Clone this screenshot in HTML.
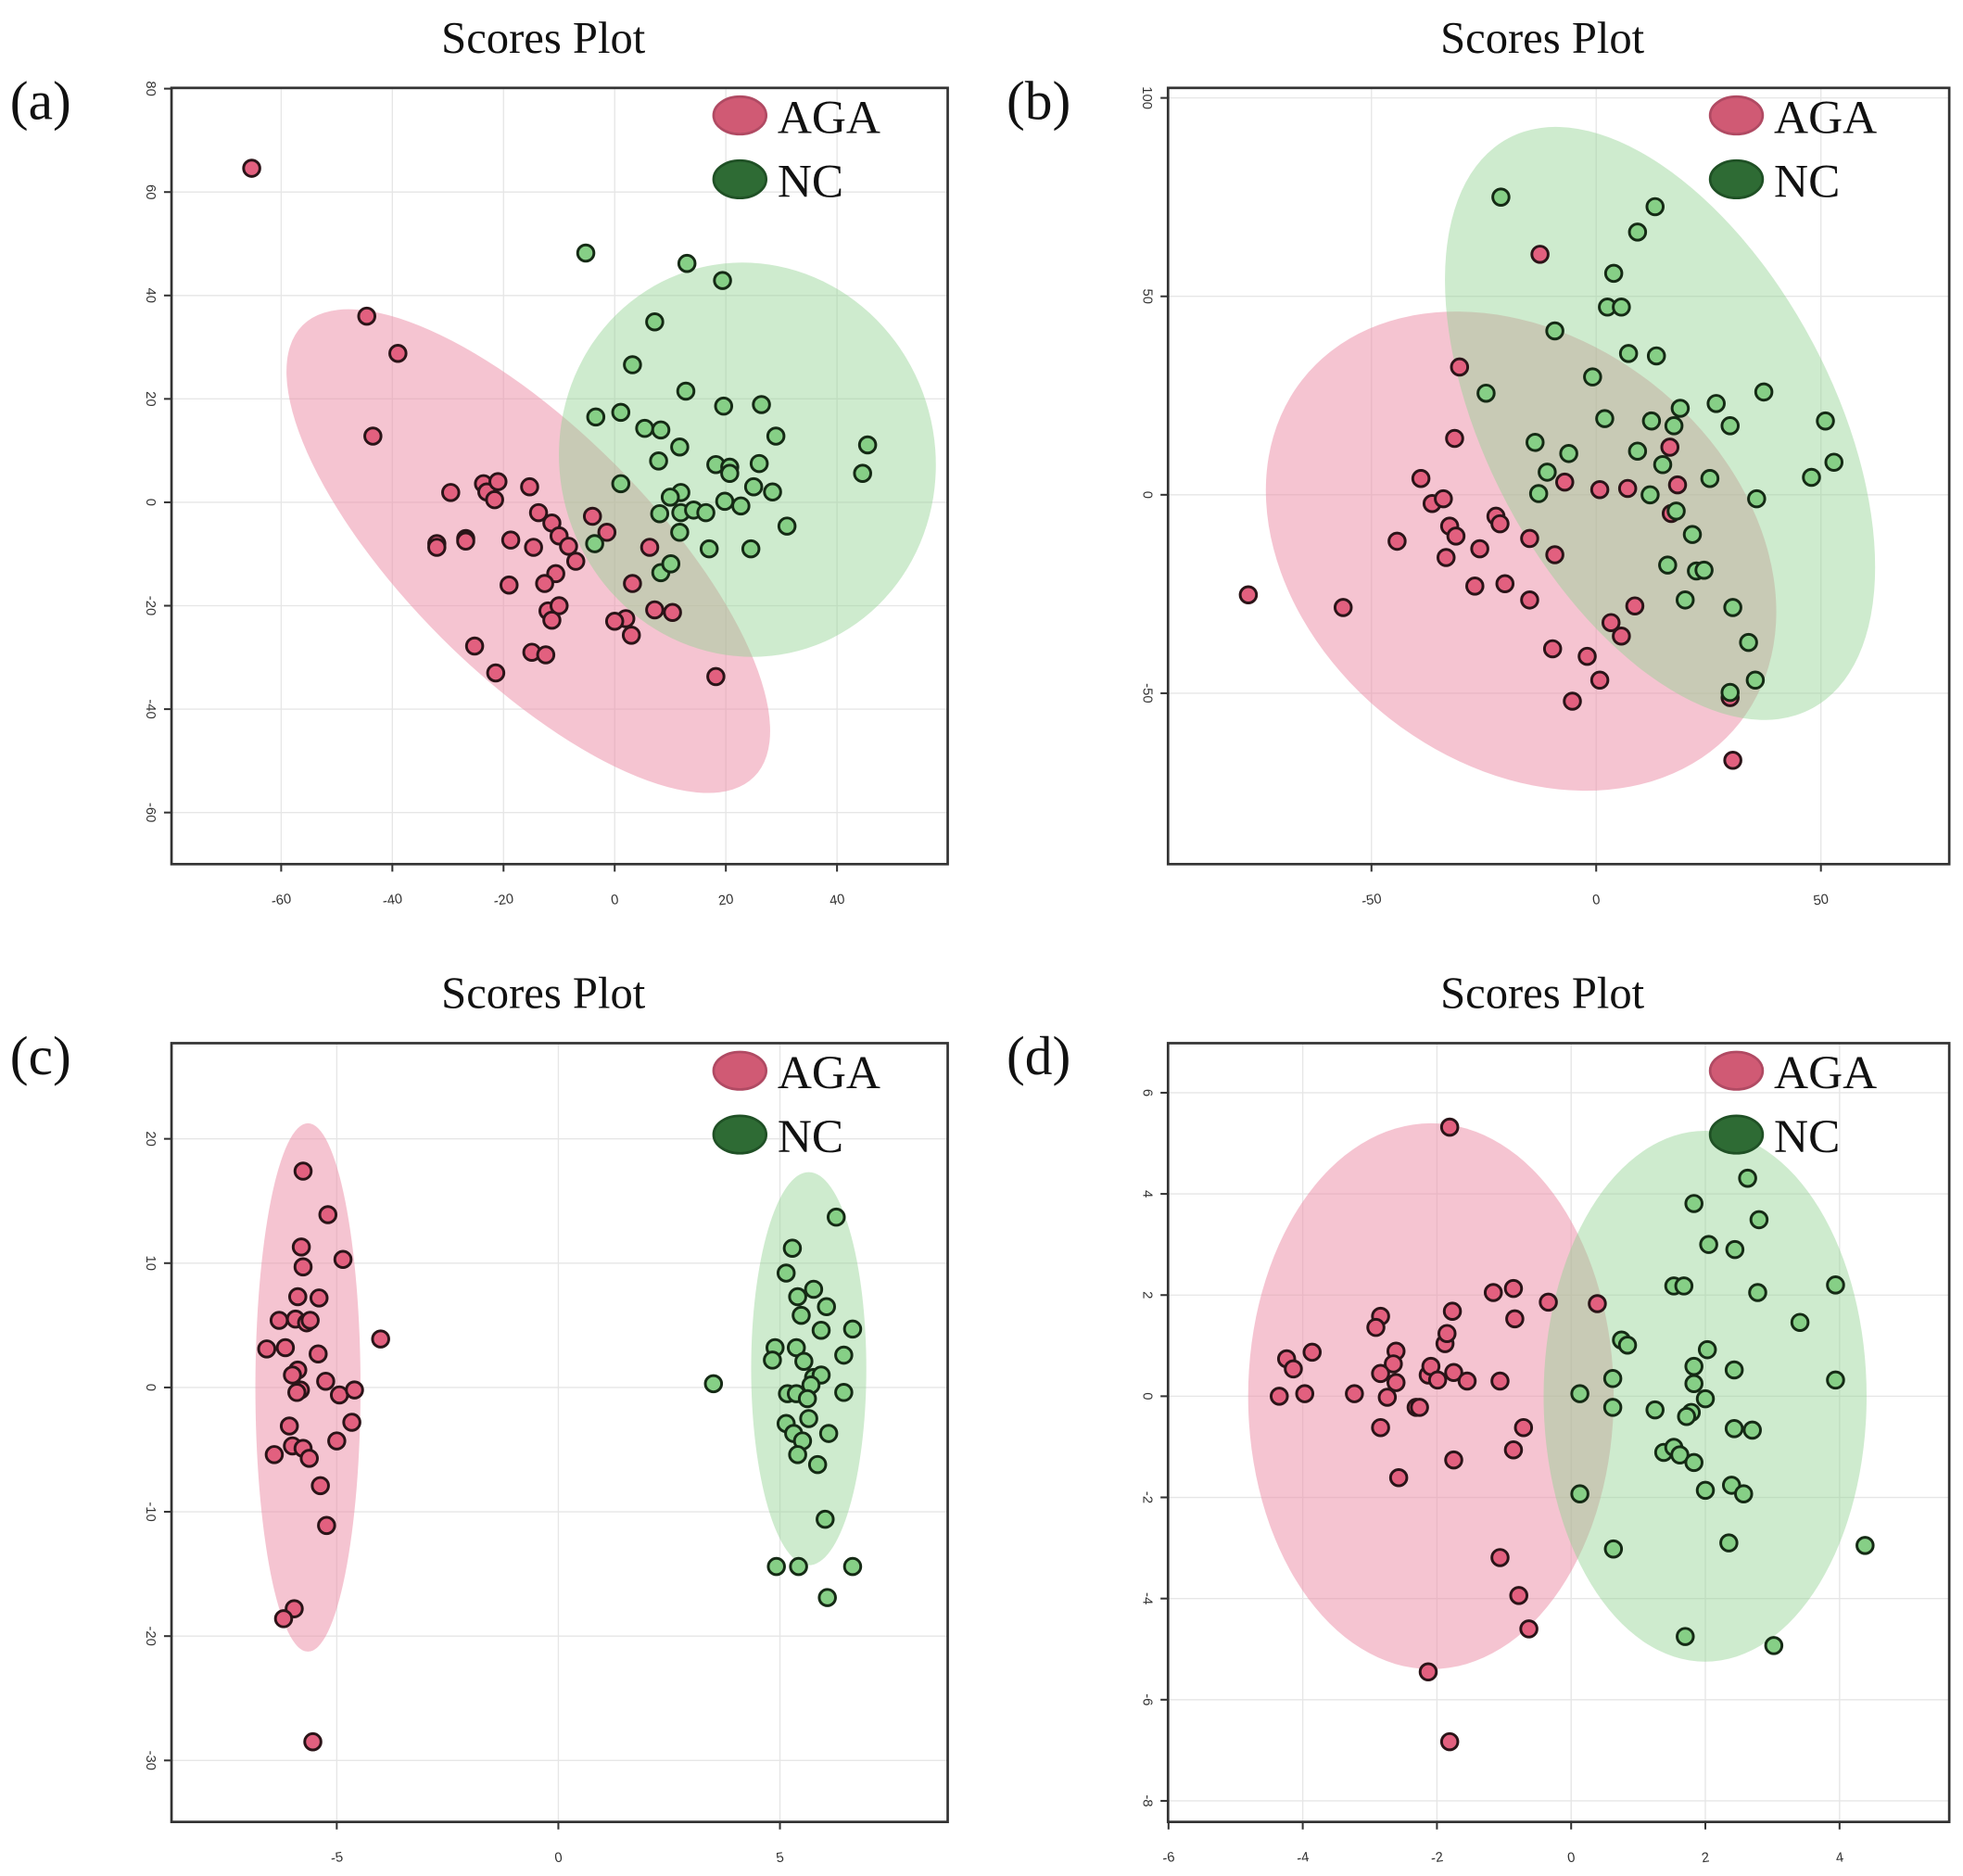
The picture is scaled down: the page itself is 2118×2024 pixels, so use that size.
<!DOCTYPE html>
<html><head><meta charset="utf-8"><style>
html,body{margin:0;padding:0;background:#fff;}
svg{display:block;}
</style></head><body>
<svg id="fig" width="2118" height="2024" viewBox="0 0 1568 1498" xmlns="http://www.w3.org/2000/svg"></svg>
<script>
// Panel (a)
const aPinkX=[-65.3,-44.6,-39,-43.5,-29.5,-23.6,-23,-21,-21.6,-15.3,-32,-32,-26.8,-26.8,-18.7,-13.7,-11.3,-10,-8.3,-14.6,-7,-10.6,-12.6,-19,-12,-10,-11.3,-4,-1.4,3.2,2,0,3,6.3,7.2,10.4,-25.2,-14.9,-12.4,-21.4,18.2];
const aPinkY=[64.6,36,28.8,12.8,1.9,3.6,2,4,0.5,3,-8,-8.7,-7,-7.5,-7.3,-2,-4,-6.5,-8.5,-8.7,-11.4,-13.8,-15.7,-16,-21,-20,-22.8,-2.7,-5.8,-15.7,-22.5,-23,-25.7,-8.7,-20.8,-21.3,-27.8,-29,-29.5,-33,-33.7];
const aGreenX=[-5.2,13,19.4,7.2,3.2,12.8,19.6,26.4,-3.4,1.1,5.4,8.3,11.7,29,45.5,44.6,7.9,18.2,20.7,20.7,26,1.1,25,28.4,11.9,10,8.1,11.9,14.2,16.4,19.8,22.7,31,11.7,-3.6,17,24.5,8.3,10.1];
const aGreenY=[48.2,46.2,42.9,34.9,26.6,21.5,18.6,18.9,16.5,17.4,14.3,14,10.7,12.8,11.1,5.6,8,7.3,6.8,5.6,7.5,3.6,3,2,1.9,1,-2.2,-2,-1.5,-2,0.2,-0.7,-4.6,-5.8,-8,-9,-9,-13.6,-11.9];
const aXTicks=[-60,-40,-20,0,20,40];
const aYTicks=[-60,-40,-20,0,20,40,60,80];
// Panel (b)
const bPinkX=[-77.4,-56.3,-12.5,-30.4,-31.5,-39,-36.5,-34,-44.3,-32.6,-31.2,-33.4,-25.9,-22.3,-21.4,-27,-20.3,-14.8,-9.7,-2,0.8,-5.3,-14.8,-9.2,-7,0.8,7,16.4,16.7,18.1,3.3,5.6,8.6,29.8,30.4];
const bPinkY=[-25.2,-28.4,60.6,32.2,14.2,4.1,-2.2,-1,-11.7,-7.9,-10.4,-15.8,-13.6,-5.4,-7.3,-23,-22.4,-26.5,-38.8,-40.7,-46.7,-52,-11,-15.1,3.2,1.3,1.6,12,-4.7,2.5,-32.2,-35.6,-28,-51.1,-66.9];
const bGreenX=[-21.2,13.1,9.2,3.9,2.5,5.6,-9.2,7.2,13.4,-24.5,-0.8,37.3,26.7,18.7,1.9,12.3,17.3,29.8,51,-13.6,-6.1,9.2,14.8,25.3,47.9,52.9,-10.9,-12.8,12,35.7,17.8,21.4,15.9,22.3,24,19.8,30.4,33.9,35.4,29.8];
const bGreenY=[75,72.6,66.2,55.8,47.3,47.3,41.3,35.6,35,25.6,29.7,25.9,23,21.8,19.2,18.6,17.4,17.4,18.6,13.2,10.4,11,7.6,4.1,4.4,8.2,5.7,0.3,0,-1,-4.1,-10,-17.7,-19.2,-19,-26.5,-28.4,-37.2,-46.7,-49.8];
const bXTicks=[-50,0,50];
const bYTicks=[-50,0,50,100];
// Panel (c)
const cPinkX=[-5.76,-5.2,-5.8,-4.86,-5.76,-5.88,-5.4,-6.3,-5.93,-5.68,-5.6,-6.58,-6.16,-4.01,-5.42,-5.88,-6,-5.25,-5.82,-5.9,-4.94,-4.6,-6.07,-4.66,-6,-5.76,-5.62,-6.41,-5,-5.37,-5.23,-5.96,-6.2,-5.54];
const cPinkY=[17.4,13.9,11.3,10.3,9.7,7.3,7.2,5.4,5.5,5.2,5.4,3.1,3.2,3.9,2.7,1.4,1,0.5,-0.2,-0.4,-0.6,-0.2,-3.1,-2.8,-4.7,-4.9,-5.7,-5.4,-4.3,-7.9,-11.1,-17.8,-18.6,-28.5];
const cGreenX=[3.5,6.27,5.28,5.14,5.76,5.4,6.05,5.48,6.64,5.93,4.89,5.37,6.44,4.83,5.54,5.76,5.93,5.7,5.17,5.37,6.44,5.62,5.14,5.65,5.31,5.51,6.1,5.4,5.85,6.02,4.92,5.42,6.64,6.07];
const cGreenY=[0.3,13.7,11.2,9.2,7.9,7.3,6.5,5.8,4.7,4.6,3.2,3.2,2.6,2.2,2.1,0.8,1,0.2,-0.5,-0.5,-0.4,-0.9,-2.9,-2.5,-3.7,-4.3,-3.7,-5.4,-6.2,-10.6,-14.4,-14.4,-14.4,-16.9];
const cXTicks=[-5,0,5];
const cYTicks=[-30,-20,-10,0,10,20];
// Panel (d)
const dPinkX=[-1.81,-4.35,-4.24,-4.14,-3.86,-3.97,-3.23,-2.84,-2.91,-2.61,-2.65,-2.84,-2.61,-2.74,-2.84,-2.57,-2.31,-2.26,-2.13,-2.09,-1.99,-1.88,-1.85,-1.77,-1.75,-1.55,-1.75,-1.16,-0.86,-0.84,-1.06,-0.71,-0.86,-0.34,0.39,-1.06,-0.78,-0.63,-2.13,-1.81];
const dPinkY=[5.32,0,0.74,0.54,0.87,0.05,0.05,1.58,1.36,0.89,0.64,0.45,0.27,-0.02,-0.62,-1.61,-0.22,-0.22,0.42,0.59,0.32,1.04,1.24,1.68,0.47,0.3,-1.26,2.05,2.13,1.53,0.3,-0.62,-1.06,1.86,1.83,-3.19,-3.94,-4.6,-5.45,-6.83];
const dGreenX=[2.63,1.83,2.8,2.05,2.44,3.94,1.53,1.68,2.78,3.41,0.75,0.84,2.03,2.43,1.83,1.83,0.62,3.94,0.13,2,1.79,1.72,0.62,1.25,2.43,2.7,1.38,1.53,1.62,1.83,2,2.39,2.57,0.13,0.63,2.35,4.38,1.7,3.02];
const dGreenY=[4.31,3.81,3.49,3,2.9,2.2,2.18,2.18,2.05,1.46,1.11,1.01,0.92,0.52,0.59,0.25,0.35,0.32,0.05,-0.05,-0.32,-0.4,-0.22,-0.27,-0.64,-0.67,-1.11,-1.01,-1.16,-1.31,-1.86,-1.76,-1.93,-1.93,-3.02,-2.9,-2.95,-4.75,-4.93];
const dXTicks=[-6,-4,-2,0,2,4];
const dYTicks=[-8,-6,-4,-2,0,2,4,6];

const NS='http://www.w3.org/2000/svg';
const svg=document.getElementById('fig');
function mk(tag,attrs,parent){const e=document.createElementNS(NS,tag);for(const k in attrs)e.setAttribute(k,attrs[k]);(parent||svg).appendChild(e);return e;}

const panels=[
 {id:'a',L:137,T:70,R:757,B:690,xp:491,xs:4.44,yp:401,ys:4.13,xt:aXTicks,yt:aYTicks,px:aPinkX,py:aPinkY,gx:aGreenX,gy:aGreenY,
  pe:{cx:422,cy:440,rx:255,ry:98,rot:45},ge:{cx:597,cy:367,rx:158,ry:150,rot:75}},
 {id:'b',L:933,T:70,R:1557,B:690,xp:1275,xs:3.59,yp:395,ys:3.17,xt:bXTicks,yt:bYTicks,px:bPinkX,py:bPinkY,gx:bGreenX,gy:bGreenY,
  pe:{cx:1215,cy:440,rx:222,ry:170,rot:38},ge:{cx:1326,cy:338,rx:258,ry:138,rot:62}},
 {id:'c',L:137,T:833,R:757,B:1455,xp:446,xs:35.4,yp:1108,ys:9.93,xt:cXTicks,yt:cYTicks,px:cPinkX,py:cPinkY,gx:cGreenX,gy:cGreenY,
  pe:{cx:246,cy:1108,rx:42,ry:211,rot:0},ge:{cx:646,cy:1093,rx:46,ry:157,rot:0}},
 {id:'d',L:933,T:833,R:1557,B:1455,xp:1255,xs:53.6,yp:1115,ys:40.4,xt:dXTicks,yt:dYTicks,px:dPinkX,py:dPinkY,gx:dGreenX,gy:dGreenY,
  pe:{cx:1143,cy:1115,rx:146,ry:218,rot:0},ge:{cx:1362,cy:1115,rx:129,ry:212,rot:0}}
];

panels.forEach(p=>{
  const g=mk('g',{});
  
  
  const sx=v=>p.xp+v*p.xs, sy=v=>p.yp-v*p.ys;
  const cx=(p.L+p.R)/2-13;
  const title=mk('text',{x:cx,y:p.T-28,'text-anchor':'middle','font-family':'Liberation Serif, serif','font-size':36,fill:'#111'},g);
  title.textContent='Scores Plot';
  
  
  const lab=mk('text',{x:p.L-129,y:p.T+25,'font-family':'Liberation Serif, serif','font-size':44,fill:'#111'},g);
  lab.textContent='('+p.id+')';
  
  
  p.xt.forEach(t=>{
    const gl=mk('line',{x1:sx(t),x2:sx(t),y1:p.T,y2:p.B,stroke:'#e6e6e6','stroke-width':1},g);
    
    
    mk('line',{x1:sx(t),x2:sx(t),y1:p.B,y2:p.B+6,stroke:'#333','stroke-width':1.5},g);
    const tl=mk('text',{x:sx(t),y:p.B+32,'text-anchor':'middle','font-family':'Liberation Sans, sans-serif','font-size':11,fill:'#333',transform:'rotate(-8 '+sx(t)+' '+(p.B+28)+')'},g);
    tl.textContent=t;
    
    
  });
  p.yt.forEach(t=>{
    const gl=mk('line',{x1:p.L,x2:p.R,y1:sy(t),y2:sy(t),stroke:'#e6e6e6','stroke-width':1},g);
    
    
    mk('line',{x1:p.L-6,x2:p.L,y1:sy(t),y2:sy(t),stroke:'#333','stroke-width':1.5},g);
    const yx=p.L-20;
    const tl=mk('text',{x:yx,y:sy(t),'text-anchor':'middle','font-family':'Liberation Sans, sans-serif','font-size':11,fill:'#333',transform:'rotate(90 '+yx+' '+sy(t)+')'},g);
    tl.textContent=t;
    
    
  });
  const pe=mk('ellipse',{cx:p.pe.cx,cy:p.pe.cy,rx:p.pe.rx,ry:p.pe.ry,transform:'rotate('+p.pe.rot+' '+p.pe.cx+' '+p.pe.cy+')',fill:'#ec8aa3','fill-opacity':0.5},g);
  
  
  const ge=mk('ellipse',{cx:p.ge.cx,cy:p.ge.cy,rx:p.ge.rx,ry:p.ge.ry,transform:'rotate('+p.ge.rot+' '+p.ge.cx+' '+p.ge.cy+')',fill:'#93d293','fill-opacity':0.45},g);
  
  
  const fr=mk('rect',{x:p.L,y:p.T,width:p.R-p.L,height:p.B-p.T,fill:'none',stroke:'#333','stroke-width':2},g);
  
  
  p.px.forEach((v,i)=>{
    const c=mk('circle',{cx:sx(v),cy:sy(p.py[i]),r:6.5,fill:'#e2607f',stroke:'#2a1418','stroke-width':2.2},g);
    
    
  });
  p.gx.forEach((v,i)=>{
    const c=mk('circle',{cx:sx(v),cy:sy(p.gy[i]),r:6.5,fill:'#86cf86',stroke:'#152a15','stroke-width':2.2},g);
    
    
  });
  const lg=mk('g',{},g);
  
  
  const lx=p.L+454;
  const e1=mk('ellipse',{cx:lx,cy:p.T+22,rx:21,ry:15,fill:'#d05a74',stroke:'#b04a63','stroke-width':2},lg);
  
  
  const t1=mk('text',{x:lx+30,y:p.T+36,'font-family':'Liberation Serif, serif','font-size':38,fill:'#111'},lg);
  t1.textContent='AGA';
  
  
  const e2=mk('ellipse',{cx:lx,cy:p.T+73,rx:21,ry:15,fill:'#2e6b34',stroke:'#1f5025','stroke-width':2},lg);
  
  
  const t2=mk('text',{x:lx+30,y:p.T+87,'font-family':'Liberation Serif, serif','font-size':38,fill:'#111'},lg);
  t2.textContent='NC';
  
  
});
</script>
</body></html>
